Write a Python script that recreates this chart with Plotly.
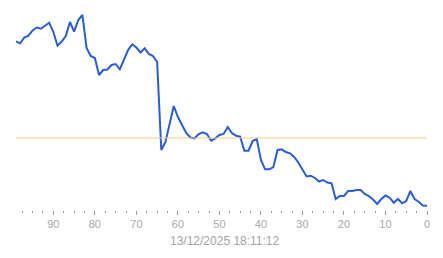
import plotly.graph_objects as go

# x positions (counting down from 99 to 0)
x_vals = list(range(99, -1, -1))

# series values (arbitrary units; y axis hidden)
y_vals = [
    168.5, 166.7, 172.5, 174.3, 179.5, 182.5, 181.3, 184.5, 187.3, 178.0,  # 99..90
    164.3, 168.5, 174.0, 188.0, 178.3, 190.0, 195.0, 162.0, 154.0, 152.0,  # 89..80
    135.0, 140.0, 140.5, 145.0, 146.0, 140.7, 150.0, 160.0, 165.7, 162.5,  # 79..70
    157.5, 161.7, 156.0, 154.0, 148.0, 60.0, 68.0, 86.0, 104.0, 93.0,      # 69..60
    85.0, 77.0, 72.5, 71.7, 76.0, 77.7, 76.0, 69.3, 71.7, 75.0,            # 59..50
    76.0, 83.0, 77.0, 74.3, 73.3, 59.3, 59.3, 69.0, 71.0, 50.0,            # 49..40
    40.7, 40.7, 43.0, 60.0, 60.7, 58.0, 56.7, 53.0, 47.5, 41.0,            # 39..30
    33.5, 34.3, 32.0, 28.5, 30.0, 27.5, 26.7, 11.0, 14.0, 14.0,            # 29..20
    19.0, 19.0, 20.0, 20.0, 16.0, 14.0, 10.5, 6.0, 11.0, 14.5,             # 19..10
    12.3, 7.3, 11.0, 6.7, 9.0, 19.0, 11.0, 8.3, 4.5, 4.3,                  # 9..0
]

ref_value = 72.0
x_ticks = [90, 80, 70, 60, 50, 40, 30, 20, 10, 0]
timestamp = "13/12/2025 18:11:12"

fig = go.Figure()
fig.add_trace(go.Scatter(
    x=x_vals, y=y_vals, mode="lines",
    line=dict(color="#2a5cd8", width=2),
    hoverinfo="skip", showlegend=False,
))
fig.add_trace(go.Scatter(
    x=[max(x_vals), min(x_vals)], y=[ref_value, ref_value], mode="lines",
    line=dict(color="#f2cf7e", width=1),
    hoverinfo="skip", showlegend=False,
))

fig.update_layout(
    width=443, height=258,
    margin=dict(l=16, r=16, t=10, b=48),
    paper_bgcolor="white", plot_bgcolor="white",
    font=dict(family="Liberation Sans, Arial, sans-serif", size=11, color="#a8a8a8"),
    xaxis=dict(
        range=[99, 0], showgrid=False, zeroline=False, showline=False,
        tickmode="array", tickvals=x_ticks, ticktext=[str(t) for t in x_ticks],
        ticks="outside", ticklen=4, tickwidth=1, tickcolor="#9a9a9a",
        tickfont=dict(size=11, color="#a8a8a8"),
        minor=dict(dtick=2.5, tick0=0, ticks="outside", ticklen=2, tickwidth=1,
                   tickcolor="#9a9a9a", showgrid=False),
    ),
    yaxis=dict(range=[0, 200], visible=False, showgrid=False, zeroline=False),
    annotations=[dict(
        text=timestamp, xref="paper", yref="paper",
        x=(224.5 - 16) / 411, y=(210 - 241) / 200,
        xanchor="center", yanchor="middle", showarrow=False,
        font=dict(size=12, color="#a3a3a3"),
    )],
)

fig.write_html("out.html")
